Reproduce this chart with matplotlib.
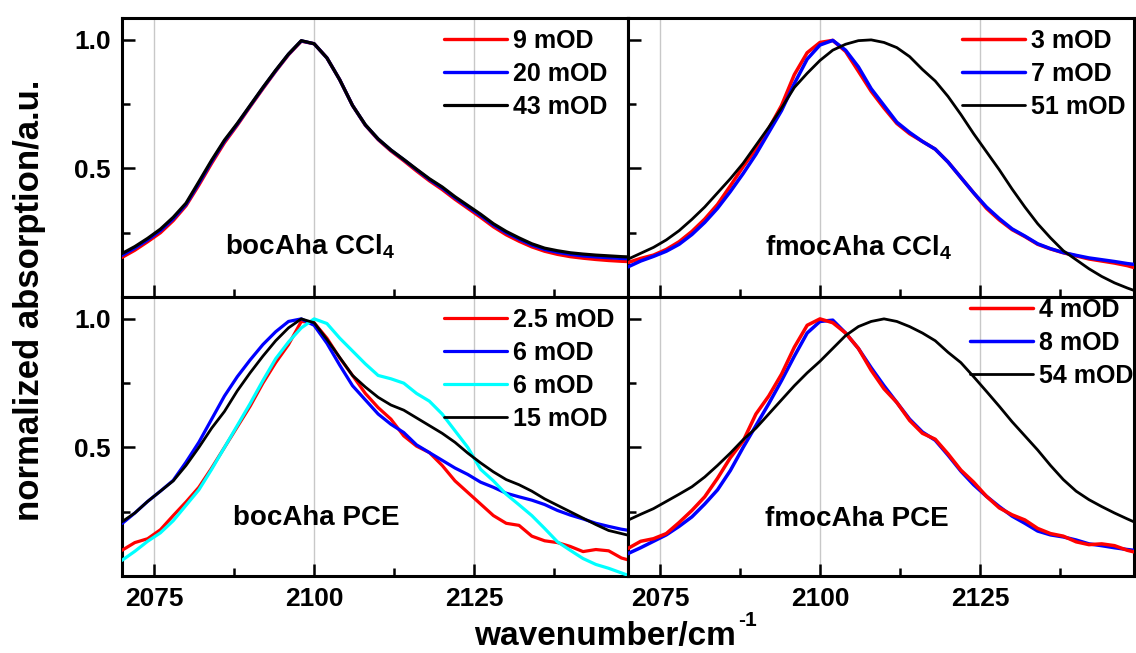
import matplotlib
matplotlib.use('Agg')
import matplotlib.pyplot as plt
from matplotlib.ticker import MultipleLocator, FixedLocator

plt.rcParams['font.family'] = ['Liberation Sans', 'DejaVu Sans']
plt.rcParams['font.weight'] = 'bold'
plt.rcParams['mathtext.default'] = 'regular'

# wavenumber grid (cm^-1)
wn = [2070, 2072, 2074, 2076, 2078, 2080, 2082, 2084, 2086, 2088,
      2090, 2092, 2094, 2096, 2098, 2100, 2102, 2104, 2106, 2108,
      2110, 2112, 2114, 2116, 2118, 2120, 2122, 2124, 2126, 2128,
      2130, 2132, 2134, 2136, 2138, 2140, 2142, 2144, 2146, 2148, 2149]

# bocAha in CCl4
boc_ccl4_9 = [0.154, 0.182, 0.215, 0.25, 0.297, 0.355, 0.435, 0.52, 0.6, 0.668,
              0.74, 0.81, 0.878, 0.942, 0.995, 0.985, 0.93, 0.845, 0.745, 0.668,
              0.612, 0.568, 0.53, 0.49, 0.452, 0.418, 0.38, 0.345, 0.31, 0.273,
              0.242, 0.217, 0.195, 0.178, 0.166, 0.157, 0.151, 0.146, 0.142, 0.139, 0.138]
boc_ccl4_20 = [0.162, 0.19, 0.222, 0.258, 0.304, 0.36, 0.442, 0.527, 0.606, 0.672,
               0.743, 0.813, 0.88, 0.944, 0.996, 0.985, 0.93, 0.845, 0.745, 0.669,
               0.614, 0.571, 0.534, 0.495, 0.457, 0.424, 0.386, 0.351, 0.317, 0.28,
               0.25, 0.225, 0.202, 0.185, 0.174, 0.166, 0.16, 0.156, 0.153, 0.15, 0.149]
boc_ccl4_43 = [0.169, 0.196, 0.228, 0.264, 0.31, 0.365, 0.448, 0.532, 0.61, 0.675,
               0.745, 0.815, 0.882, 0.945, 0.997, 0.985, 0.93, 0.845, 0.745, 0.67,
               0.615, 0.572, 0.535, 0.497, 0.46, 0.428, 0.39, 0.356, 0.322, 0.285,
               0.255, 0.23, 0.207, 0.19, 0.18, 0.172, 0.167, 0.163, 0.16, 0.157, 0.156]

# fmocAha in CCl4
fmoc_ccl4_3 = [0.134, 0.15, 0.163, 0.185, 0.215, 0.255, 0.303, 0.36, 0.432, 0.507,
               0.575, 0.655, 0.745, 0.865, 0.95, 0.99, 0.998, 0.955, 0.878, 0.8,
               0.735, 0.675, 0.635, 0.605, 0.575, 0.525, 0.465, 0.405, 0.345, 0.3,
               0.262, 0.235, 0.205, 0.187, 0.172, 0.16, 0.148, 0.14, 0.132, 0.122, 0.115]
fmoc_ccl4_7 = [0.117, 0.14, 0.158, 0.178, 0.205, 0.243, 0.29, 0.345, 0.41, 0.48,
               0.555, 0.64, 0.725, 0.83, 0.925, 0.98, 0.998, 0.96, 0.895, 0.81,
               0.745, 0.68, 0.64, 0.605, 0.575, 0.525, 0.465, 0.405, 0.35, 0.305,
               0.265, 0.237, 0.207, 0.188, 0.173, 0.162, 0.152, 0.145, 0.138, 0.13, 0.127]
fmoc_ccl4_51 = [0.147, 0.17, 0.193, 0.222, 0.258, 0.302, 0.35, 0.405, 0.46, 0.52,
                0.59, 0.66, 0.735, 0.815, 0.87, 0.92, 0.96, 0.983, 0.997, 1.0,
                0.99, 0.97, 0.935, 0.885, 0.84, 0.78, 0.71, 0.635, 0.565, 0.495,
                0.42, 0.35, 0.285, 0.23, 0.18, 0.145, 0.11, 0.08, 0.055, 0.035, 0.026]

# bocAha in PCE
boc_pce_25 = [0.1, 0.13, 0.145, 0.18, 0.235, 0.288, 0.345, 0.42, 0.5, 0.58,
              0.66, 0.75, 0.83, 0.9, 0.99, 0.985, 0.925, 0.848, 0.78, 0.71,
              0.655, 0.61, 0.545, 0.505, 0.48, 0.43, 0.37, 0.325, 0.28, 0.235,
              0.205, 0.197, 0.155, 0.137, 0.13, 0.115, 0.095, 0.103, 0.098, 0.07, 0.063]
boc_pce_6 = [0.204, 0.245, 0.29, 0.33, 0.372, 0.443, 0.52, 0.61, 0.7, 0.775,
             0.84, 0.9, 0.95, 0.99, 1.0, 0.975, 0.905, 0.82, 0.74, 0.685,
             0.63, 0.59, 0.558, 0.51, 0.48, 0.45, 0.42, 0.395, 0.365, 0.345,
             0.322, 0.308, 0.295, 0.278, 0.255, 0.237, 0.222, 0.205, 0.193, 0.182, 0.178]
boc_pce_6b = [0.061, 0.096, 0.135, 0.168, 0.215, 0.275, 0.335, 0.415, 0.5, 0.585,
              0.67, 0.76, 0.845, 0.91, 0.965, 1.0, 0.982, 0.925, 0.875, 0.825,
              0.78, 0.767, 0.75, 0.71, 0.68, 0.63, 0.565, 0.5, 0.415, 0.37,
              0.318, 0.277, 0.235, 0.185, 0.133, 0.1, 0.068, 0.045, 0.03, 0.012, 0.003]
boc_pce_15 = [0.211, 0.245, 0.29, 0.33, 0.37, 0.43, 0.5, 0.575, 0.64, 0.72,
              0.79, 0.855, 0.915, 0.965, 1.0, 0.985, 0.92, 0.85, 0.78, 0.735,
              0.695, 0.665, 0.645, 0.615, 0.585, 0.555, 0.52, 0.478, 0.44, 0.405,
              0.375, 0.355, 0.33, 0.3, 0.275, 0.25, 0.225, 0.2, 0.177, 0.165, 0.159]

# fmocAha in PCE
fmoc_pce_4 = [0.107, 0.135, 0.145, 0.165, 0.208, 0.255, 0.308, 0.38, 0.46, 0.525,
              0.63, 0.7, 0.785, 0.89, 0.975, 1.0, 0.985, 0.945, 0.885, 0.8,
              0.728, 0.675, 0.605, 0.555, 0.532, 0.475, 0.412, 0.365, 0.31, 0.265,
              0.238, 0.218, 0.185, 0.165, 0.155, 0.133, 0.122, 0.125, 0.118, 0.1, 0.094]
fmoc_pce_8 = [0.087, 0.11, 0.135, 0.16, 0.193, 0.23, 0.28, 0.335, 0.41, 0.5,
              0.585, 0.67, 0.76, 0.855, 0.945, 0.99, 0.995, 0.945, 0.885, 0.81,
              0.74, 0.675, 0.61, 0.56, 0.528, 0.47, 0.408, 0.355, 0.31, 0.27,
              0.233, 0.205, 0.175, 0.16, 0.152, 0.14, 0.125, 0.118, 0.11, 0.103, 0.1]
fmoc_pce_54 = [0.217, 0.24, 0.262, 0.29, 0.318, 0.347, 0.385, 0.43, 0.478, 0.53,
               0.575, 0.63, 0.685, 0.74, 0.79, 0.835, 0.885, 0.935, 0.97, 0.99,
               1.0, 0.99, 0.97, 0.945, 0.915, 0.87, 0.83, 0.775, 0.718, 0.66,
               0.6, 0.545, 0.49, 0.43, 0.375, 0.33, 0.297, 0.27, 0.245, 0.222, 0.211]

RED, BLUE, CYAN, BLACK = '#ff0000', '#0000ff', '#00ffff', '#000000'

# (series, label, colour, linewidth, draw order)
panels = [
    dict(curves=[(boc_ccl4_9, '9 mOD', RED, 2.4, 1), (boc_ccl4_20, '20 mOD', BLUE, 2.4, 2),
                 (boc_ccl4_43, '43 mOD', BLACK, 2.3, 3)],
         title='bocAha CCl$_4$', tpos=(0.203, 0.154), lpos=(0.637, 0.962)),
    dict(curves=[(fmoc_ccl4_3, '3 mOD', RED, 2.5, 1), (fmoc_ccl4_7, '7 mOD', BLUE, 2.5, 2),
                 (fmoc_ccl4_51, '51 mOD', BLACK, 2.0, 3)],
         title='fmocAha CCl$_4$', tpos=(0.272, 0.148), lpos=(0.661, 0.962)),
    dict(curves=[(boc_pce_25, '2.5 mOD', RED, 2.3, 1), (boc_pce_6, '6 mOD', BLUE, 2.3, 2),
                 (boc_pce_6b, '6 mOD', CYAN, 2.3, 3), (boc_pce_15, '15 mOD', BLACK, 2.0, 4)],
         title='bocAha PCE', tpos=(0.2195, 0.183), lpos=(0.637, 0.962)),
    dict(curves=[(fmoc_pce_4, '4 mOD', RED, 2.5, 2), (fmoc_pce_8, '8 mOD', BLUE, 2.5, 1),
                 (fmoc_pce_54, '54 mOD', BLACK, 2.0, 3)],
         title='fmocAha PCE', tpos=(0.272, 0.180), lpos=(0.677, 0.997)),
]

fig, axs = plt.subplots(2, 2, figsize=(11.36, 6.53), dpi=100)
fig.subplots_adjust(left=0.1074, right=0.998, top=0.9724, bottom=0.1179,
                    wspace=0, hspace=0)

for i, (ax, p) in enumerate(zip(axs.flat, panels)):
    handles = []
    for ys, lab, col, lw, z in p['curves']:
        h, = ax.plot(wn, ys, color=col, lw=lw, label=lab, zorder=z + 2,
                     solid_joinstyle='round', solid_capstyle='round')
        handles.append(h)
    ax.set_xlim(2070, 2149)
    ax.set_ylim(0, 1.085)
    ax.xaxis.set_major_locator(MultipleLocator(25))
    ax.xaxis.set_minor_locator(MultipleLocator(12.5))
    ax.yaxis.set_major_locator(FixedLocator([0.5, 1.0]))
    ax.yaxis.set_minor_locator(FixedLocator([0.25, 0.75]))
    ax.grid(axis='x', which='major', color='#c8c8c8', lw=1.0)
    ax.set_axisbelow(True)
    ax.tick_params(which='both', direction='in', top=False, right=False,
                   width=1.8, labelsize=19, pad=8)
    ax.tick_params(which='major', length=9)
    ax.tick_params(which='minor', length=6)
    for s in ax.spines.values():
        s.set_linewidth(2.2)
    if i < 2:
        ax.tick_params(labelbottom=False)
    if i % 2 == 1:
        ax.tick_params(labelleft=False)
    ax.text(p['tpos'][0], p['tpos'][1], p['title'], transform=ax.transAxes,
            fontsize=20, fontweight='bold', va='baseline', ha='left')
    ax.legend(handles=handles, loc='upper left', bbox_to_anchor=p['lpos'],
              frameon=False, borderpad=0, borderaxespad=0, handlelength=2.5,
              handletextpad=0.25, labelspacing=0.36, fontsize=18)

fig.text(30 / 1136, 1 - 300 / 653, 'normalized absorption/a.u.', rotation=90,
         ha='center', va='center', fontsize=25, fontweight='bold')

# x label with a small raised "-1"
xl = fig.text(605 / 1136, 1 - 637 / 653, 'wavenumber/cm', ha='center',
              va='center', fontsize=24, fontweight='bold')
fig.canvas.draw()
bb = xl.get_window_extent()
W, H = fig.bbox.width, fig.bbox.height
fig.text((bb.x1 + 2) / W, (bb.y1 + 10) / H, '-1', ha='left', va='top',
         fontsize=15, fontweight='bold')

fig.savefig('out.png', dpi=100)
